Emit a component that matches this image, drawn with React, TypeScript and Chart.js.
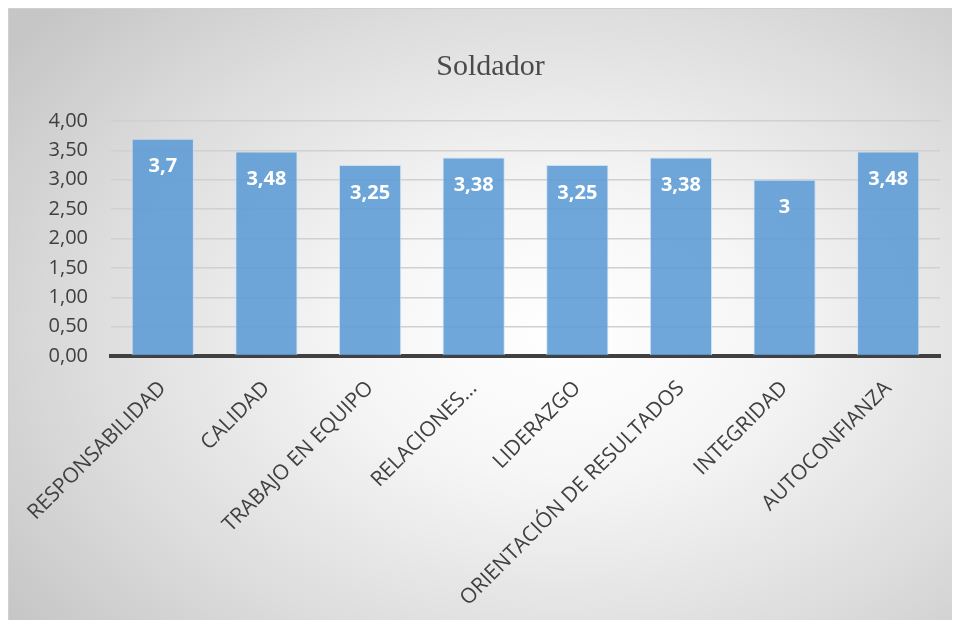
import React, { useEffect, useRef } from "react";
import { Chart, registerables } from "chart.js";

Chart.register(...registerables);

const chartTitle = "Soldador";
const categories = [
  "RESPONSABILIDAD",
  "CALIDAD",
  "TRABAJO EN EQUIPO",
  "RELACIONES…",
  "LIDERAZGO",
  "ORIENTACIÓN DE RESULTADOS",
  "INTEGRIDAD",
  "AUTOCONFIANZA",
];
const values = [3.7, 3.48, 3.25, 3.38, 3.25, 3.38, 3, 3.48];
const yMin = 0;
const yMax = 4;
const yStep = 0.5;

const fmtComma = (v: number, digits?: number) =>
  (digits === undefined ? String(v) : v.toFixed(digits)).replace(".", ",");

const dataLabelPlugin = {
  id: "dataLabels",
  afterDatasetsDraw(chart: any) {
    const ctx = chart.ctx;
    const meta = chart.getDatasetMeta(0);
    ctx.save();
    ctx.fillStyle = "#ffffff";
    ctx.font = "bold 20px 'Open Sans'";
    ctx.textAlign = "center";
    ctx.textBaseline = "middle";
    meta.data.forEach((bar: any, i: number) => {
      ctx.fillText(fmtComma(values[i]), bar.x, bar.y + 28);
    });
    ctx.restore();
  },
};

const titlePlugin = {
  id: "centeredTitle",
  afterDraw(chart: any) {
    const ctx = chart.ctx;
    ctx.save();
    ctx.fillStyle = "#4a4a4a";
    ctx.font = "30px 'Liberation Serif', 'Times New Roman', serif";
    ctx.textAlign = "center";
    ctx.textBaseline = "middle";
    ctx.fillText(chartTitle, chart.width / 2 + 6, 58);
    ctx.restore();
  },
};

export default function App() {
  const ref = useRef<HTMLCanvasElement | null>(null);

  useEffect(() => {
    document.documentElement.style.overflow = "hidden";
    if (!ref.current) return;
    const chart = new Chart(ref.current, {
      type: "bar",
      data: {
        labels: categories,
        datasets: [
          {
            data: values,
            backgroundColor: "rgba(91,155,213,0.88)",
            borderColor: "rgba(200,222,242,0.9)",
            borderWidth: 1,
            barPercentage: 0.6,
            categoryPercentage: 1,
          },
        ],
      },
      options: {
        animation: false,
        responsive: false,
        maintainAspectRatio: false,
        layout: { padding: { left: 0, right: 20, top: 112, bottom: 0 } },
        plugins: {
          legend: { display: false },
          tooltip: { enabled: false },
          title: { display: false },
        },
        scales: {
          x: {
            z: 1,
            grid: { display: false, drawTicks: false },
            border: { display: true, color: "#404040", width: 4 },
            ticks: {
              color: "#404040",
              font: { family: "'Open Sans'", size: 21 },
              maxRotation: 45,
              minRotation: 45,
              autoSkip: false,
              padding: 20,
            },
            afterFit(scale: any) {
              scale.height = 264;
              scale.paddingLeft = 0;
              scale.paddingRight = 0;
            },
          },
          y: {
            min: yMin,
            max: yMax,
            grid: { color: "#d0d0d0", lineWidth: 1.5, drawTicks: false },
            border: { display: false },
            ticks: {
              stepSize: yStep,
              color: "#404040",
              font: { family: "'Open Sans'", size: 20 },
              padding: 23,
              callback: (v: any) => fmtComma(Number(v), 2),
            },
            afterFit(scale: any) {
              scale.width = 102;
              scale.paddingTop = 0;
              scale.paddingBottom = 0;
            },
          },
        },
      },
      plugins: [dataLabelPlugin, titlePlugin],
    });
    return () => chart.destroy();
  }, []);

  return (
    <div
      style={{
        width: 952,
        height: 612,
        boxSizing: "border-box",
        borderTop: "1px solid #d0d0d0",
        borderLeft: "1px solid #d0d0d0",
        background:
          "radial-gradient(ellipse 72% 78% at 58% 53%, #ffffff 0%, #f6f6f6 30%, #dcdcdc 70%, #c6c6c6 100%)",
      }}
    >
      <canvas ref={ref} width={951} height={611} style={{ display: "block" }} />
    </div>
  );
}
